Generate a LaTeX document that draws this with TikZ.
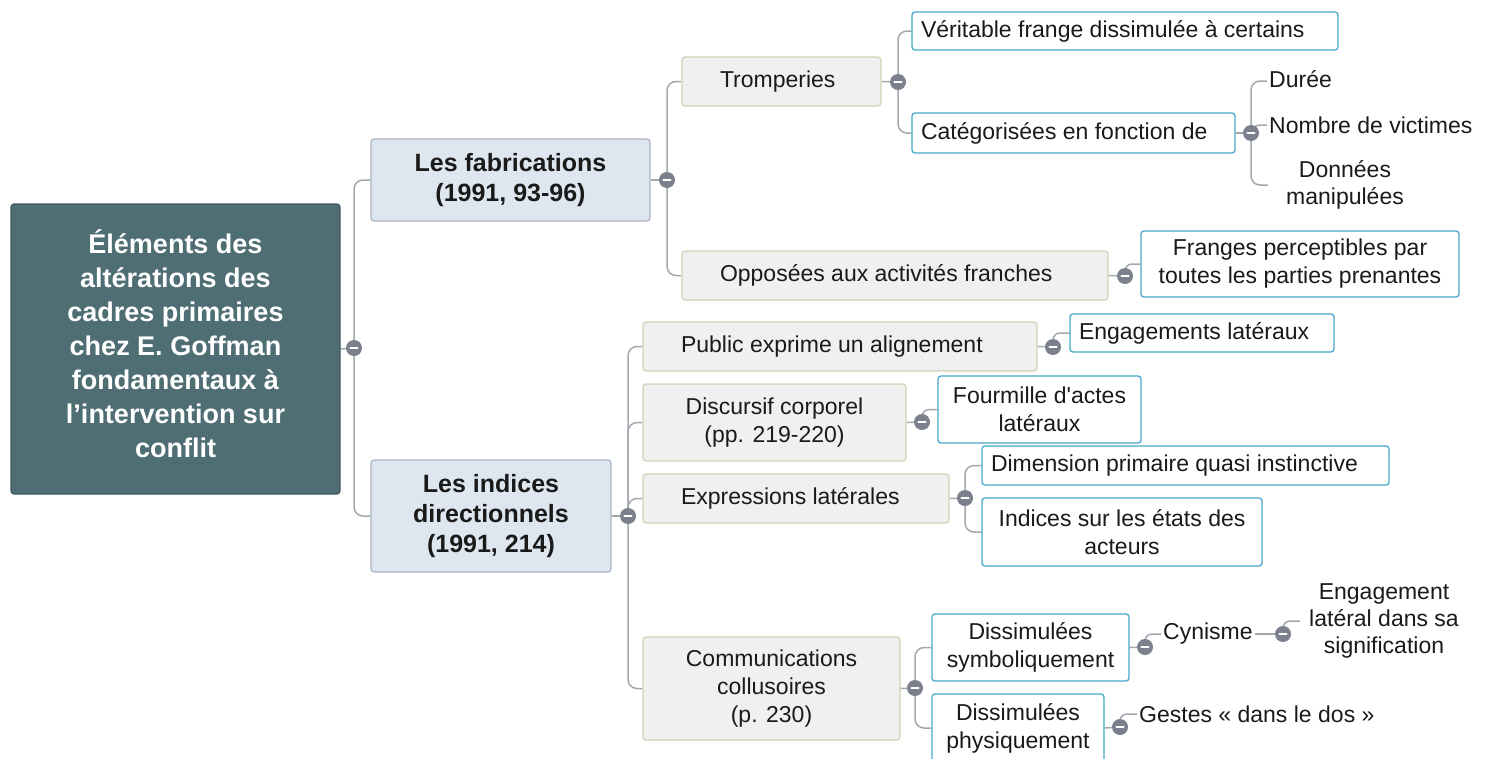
\documentclass[tikz,border=0pt]{standalone}
\usepackage{fontspec}
\setmainfont{Liberation Sans}[Ligatures=TeXOff]
\usetikzlibrary{backgrounds}
\definecolor{rootc}{HTML}{4E6E74}
\definecolor{rootb}{HTML}{3F5A5F}
\definecolor{lonef}{HTML}{DEE6EF}
\definecolor{loneb}{HTML}{A8B4C2}
\definecolor{ltwof}{HTML}{F0F0F0}
\definecolor{ltwob}{HTML}{D4D1B4}
\definecolor{lthreeb}{HTML}{45A8CC}
\definecolor{linec}{HTML}{A3A7AF}
\definecolor{bulc}{HTML}{7B808C}
\definecolor{txt}{HTML}{1A1A1A}
\tikzset{
  rootbox/.style={draw=rootb, fill=rootc, line width=1.2pt, rounded corners=3pt, text=white, align=center, inner sep=0pt,
    font=\fontsize{27}{34}\selectfont\bfseries},
  onebox/.style={draw=loneb, fill=lonef, line width=1.2pt, rounded corners=3pt, text=txt, align=center, inner sep=0pt,
    font=\fontsize{25}{30}\selectfont\bfseries},
  twobox/.style={draw=ltwob, fill=ltwof, line width=1.2pt, rounded corners=3pt, text=txt, align=center, inner sep=0pt,
    font=\fontsize{23}{28}\selectfont},
  twoline/.style={twobox, align=flush left, inner xsep=38pt, text width=#1-76pt, minimum width=#1},
  threebox/.style={draw=lthreeb, fill=white, line width=1.3pt, rounded corners=3pt, text=txt, align=center, inner sep=0pt,
    font=\fontsize{23}{28}\selectfont},
  threeline/.style={threebox, align=flush left, inner xsep=9pt, text width=#1-18pt, minimum width=#1},
  plain/.style={text=txt, align=center, inner sep=2pt, font=\fontsize{23}{27}\selectfont},
  conn/.style={draw=linec, line width=1.5pt, rounded corners=9pt},
  bul/.style={circle, fill=bulc, minimum size=16pt, inner sep=0pt,
    path picture={\draw[white, line width=2.2pt, line cap=round]
      ([xshift=-3.5pt]path picture bounding box.center) -- ([xshift=3.5pt]path picture bounding box.center);}},
}
\begin{document}
\begin{tikzpicture}[x=1pt, y=-1pt]
\useasboundingbox (0,0) rectangle (1496,758);
% level 0
\node[rootbox, minimum width=329pt, minimum height=290pt] (root) at (175.5,349)
  {Éléments des\\altérations des\\cadres primaires\\chez E. Goffman\\fondamentaux à\\l’intervention sur\\conflit\\[-24pt]};
% level 1
\node[onebox, minimum width=279pt, minimum height=82pt] (fab) at (510.5,180) {Les fabrications\\(1991, 93-96)};
\node[onebox, minimum width=240pt, minimum height=112pt] (ind) at (491,516) {Les indices\\directionnels\\(1991, 214)};
% level 2
\node[twoline=199pt, minimum height=49pt] (trom) at (781.5,81.5) {Tromperies};
\node[twoline=426pt, minimum height=49pt] (opp) at (895,275.5) {Opposées aux activités franches};
\node[twoline=394pt, minimum height=49pt] (pub) at (840,346.5) {Public exprime un alignement};
\node[twobox, minimum width=263pt, minimum height=77pt] (disc) at (774.5,422.5) {Discursif corporel\\(pp. 219-220)};
\node[twoline=306pt, minimum height=49pt] (expr) at (796,498.5) {Expressions latérales};
\node[twobox, minimum width=257pt, minimum height=103pt] (comm) at (771.5,688.5) {Communications\\collusoires\\(p. 230)};
% level 3
\node[threeline=426pt, minimum height=38pt] (ver) at (1125,31) {Véritable frange dissimulée à certains};
\node[threeline=323pt, minimum height=40pt] (cat) at (1073.5,133) {Catégorisées en fonction de};
\node[threebox, minimum width=318pt, minimum height=66pt] (fra) at (1300,264) {Franges perceptibles par\\toutes les parties prenantes};
\node[threeline=264pt, minimum height=38pt] (eng) at (1202,333) {Engagements latéraux};
\node[threebox, minimum width=203pt, minimum height=67pt] (fou) at (1039.5,409.5) {Fourmille d'actes\\latéraux};
\node[threeline=407pt, minimum height=39pt] (dim) at (1185.5,465.5) {Dimension primaire quasi instinctive};
\node[threebox, minimum width=280pt, minimum height=68pt] (indi) at (1122,532) {Indices sur les états des\\acteurs};
\node[threebox, minimum width=197pt, minimum height=67pt] (sym) at (1030.5,647.5) {Dissimulées\\symboliquement};
\node[threebox, minimum width=172pt, minimum height=68pt] (phy) at (1018,728) {Dissimulées\\physiquement};
% plain texts
\node[plain, anchor=west] (duree) at (1267,79) {Durée};
\node[plain, anchor=west] (nombre) at (1267,125) {Nombre de victimes};
\node[plain, minimum width=154pt] (donn) at (1345,185) {Données\\manipulées};
\node[plain, anchor=west] (cyn) at (1161,634) {Cynisme};
\node[plain, minimum width=168pt] (engt) at (1384,621) {Engagement\\latéral dans sa\\signification};
\node[plain, anchor=west] (gest) at (1137,714) {Gestes « dans le dos »};
% bullets
\node[bul] (b0) at (354,348) {};
\node[bul] (b1) at (667,180) {};
\node[bul] (b2) at (628,516) {};
\node[bul] (b3) at (898,82) {};
\node[bul] (b4) at (1251,133) {};
\node[bul] (b5) at (1125,276) {};
\node[bul] (b6) at (1053,347) {};
\node[bul] (b7) at (922,422) {};
\node[bul] (b8) at (965,498) {};
\node[bul] (b9) at (915,688) {};
\node[bul] (b10) at (1145,647) {};
\node[bul] (b11) at (1283,634) {};
\node[bul] (b12) at (1120,727) {};
% connectors
\begin{scope}[on background layer]
\draw[conn] (root.east) -- (b0.center);
\draw[conn] (b0.center) |- (fab.west);
\draw[conn] (b0.center) |- (ind.west);
\draw[conn] (fab.east) -- (b1.center);
\draw[conn] (b1.center) |- (trom.west);
\draw[conn] (b1.center) |- (opp.west);
\draw[conn] (ind.east) -- (b2.center);
\draw[conn] (b2.center) |- (pub.west);
\draw[conn] (b2.center) |- (disc.west);
\draw[conn] (b2.center) |- (expr.west);
\draw[conn] (b2.center) |- (comm.west);
\draw[conn] (trom.east) -- (b3.center);
\draw[conn] (b3.center) |- (ver.west);
\draw[conn] (b3.center) |- (cat.west);
\draw[conn] (cat.east) -- (b4.center);
\draw[conn] (b4.center) |- ([yshift=-2pt]duree.west);
\draw[conn] (b4.center) |- (nombre.west);
\draw[conn] (b4.center) |- (donn.west);
\draw[conn] (opp.east) -- (b5.center);
\draw[conn, rounded corners=7pt] (b5.center) |- (fra.west);
\draw[conn] (pub.east) -- (b6.center);
\draw[conn, rounded corners=7pt] (b6.center) |- (eng.west);
\draw[conn] (disc.east) -- (b7.center);
\draw[conn, rounded corners=7pt] (b7.center) |- (fou.west);
\draw[conn] (expr.east) -- (b8.center);
\draw[conn] (b8.center) |- (dim.west);
\draw[conn] (b8.center) |- (indi.west);
\draw[conn] (comm.east) -- (b9.center);
\draw[conn] (b9.center) |- (sym.west);
\draw[conn] (b9.center) |- (phy.west);
\draw[conn] (sym.east) -- (b10.center);
\draw[conn, rounded corners=7pt] (b10.center) |- (cyn.west);
\draw[conn] (cyn.east) -- (b11.center);
\draw[conn, rounded corners=7pt] (b11.center) |- (engt.west);
\draw[conn] (phy.east) -- (b12.center);
\draw[conn, rounded corners=7pt] (b12.center) |- (gest.west);
\end{scope}
\end{tikzpicture}
\end{document}
